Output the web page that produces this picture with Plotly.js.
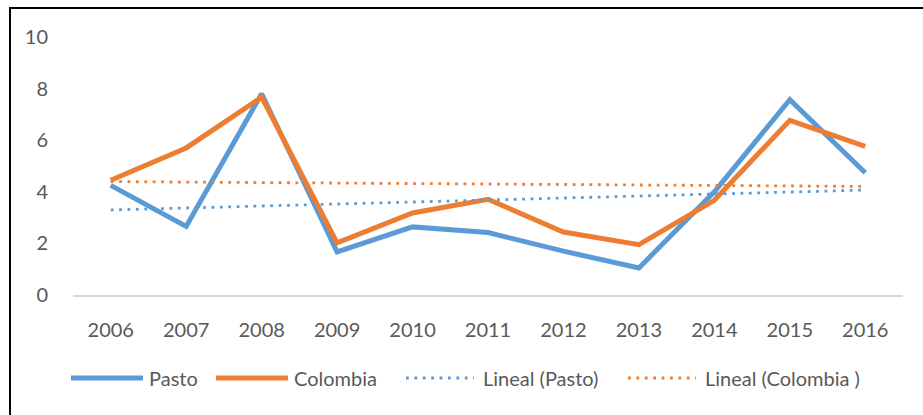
<!DOCTYPE html>
<html>
<head>
<meta charset="utf-8">
<script src="https://cdn.plot.ly/plotly-3.0.1.min.js"></script>
<style>
  html, body { margin: 0; padding: 0; background: #fff; }
  #wrap { position: relative; width: 923px; height: 415px; }
  #chart { position: absolute; left: 0; top: 0; width: 923px; height: 415px; }
  #frame { position: absolute; left: 9px; top: 7px; right: 0; bottom: -5px;
           border-top: 2px solid #000; border-left: 2px solid #000; pointer-events: none; }
</style>
</head>
<body>
<div id="wrap">
  <div id="chart"></div>
  <div id="frame"></div>
</div>
<script>
// ---- Data ----
const years = ['2006','2007','2008','2009','2010','2011','2012','2013','2014','2015','2016'];
const pasto = [4.25, 2.66, 7.8, 1.67, 2.64, 2.42, 1.7, 1.05, 4.0, 7.57, 4.74];
const colombia = [4.45, 5.7, 7.67, 2.02, 3.18, 3.71, 2.44, 1.95, 3.67, 6.77, 5.76];
const yTicks = [0, 2, 4, 6, 8, 10];
const seriesNames = ['Pasto', 'Colombia', 'Lineal (Pasto)', 'Lineal (Colombia )'];

// Linear (least-squares) trend, as in the spreadsheet "Lineal" trendline
function linearTrend(vals) {
  const n = vals.length;
  const xs = vals.map((_, i) => i);
  const mx = xs.reduce((a, b) => a + b, 0) / n;
  const my = vals.reduce((a, b) => a + b, 0) / n;
  let sxy = 0, sxx = 0;
  for (let i = 0; i < n; i++) { sxy += (xs[i] - mx) * (vals[i] - my); sxx += (xs[i] - mx) ** 2; }
  const slope = sxy / sxx;
  return xs.map(x => my + slope * (x - mx));
}

const BLUE = '#5B9BD5', ORANGE = '#ED7D31', TXT = '#595959';
const FONT = 'Lato, "Open Sans", sans-serif';
const FS = 20;

// Layout geometry
const W = 923, H = 415, L = 73, R = 20, T = 37, B = 120;
const PW = W - L - R, PH = H - T - B;
const px = x => (x - L) / PW;
const py = y => (H - B - y) / PH;

const DOT = '2.8px,5.6px';
const traces = [
  { x: years, y: pasto, name: seriesNames[0], type: 'scatter', mode: 'lines',
    line: { color: BLUE, width: 5 } },
  { x: years, y: colombia, name: seriesNames[1], type: 'scatter', mode: 'lines',
    line: { color: ORANGE, width: 5 } },
  { x: years, y: linearTrend(pasto), name: seriesNames[2], type: 'scatter', mode: 'lines',
    line: { color: BLUE, width: 2.8, dash: DOT } },
  { x: years, y: linearTrend(colombia), name: seriesNames[3], type: 'scatter', mode: 'lines',
    line: { color: ORANGE, width: 2.8, dash: DOT } }
];

// Custom legend (long samples like the original)
const legendY = 378;
const legendItems = [
  { x0: 71, x1: 143, tx: 147, color: BLUE, width: 5, dash: 'solid', text: seriesNames[0] },
  { x0: 216, x1: 288, tx: 292, color: ORANGE, width: 5, dash: 'solid', text: seriesNames[1] },
  { x0: 406, x1: 474, tx: 481, color: BLUE, width: 2.8, dash: DOT, text: seriesNames[2] },
  { x0: 628, x1: 696, tx: 703, color: ORANGE, width: 2.8, dash: DOT, text: seriesNames[3] }
];
const shapes = legendItems.map(it => ({
  type: 'line', xref: 'paper', yref: 'paper',
  x0: px(it.x0), x1: px(it.x1), y0: py(legendY), y1: py(legendY),
  line: { color: it.color, width: it.width, dash: it.dash }
}));
const annotations = legendItems.map(it => ({
  xref: 'paper', yref: 'paper', x: px(it.tx), y: py(legendY),
  xanchor: 'left', yanchor: 'middle', showarrow: false, text: it.text,
  font: { family: FONT, size: FS, color: TXT }
}));

const layout = {
  width: W, height: H,
  margin: { l: L, r: R, t: T, b: B, pad: 0 },
  paper_bgcolor: '#fff', plot_bgcolor: '#fff',
  showlegend: false,
  font: { family: FONT, size: FS, color: TXT },
  xaxis: {
    type: 'category', range: [-0.5, 10.5],
    showline: true, linecolor: '#D9D9D9', linewidth: 2,
    showgrid: false, zeroline: false,
    ticks: 'outside', ticklen: 16, tickcolor: 'rgba(0,0,0,0)',
    tickfont: { family: FONT, size: FS, color: TXT }
  },
  yaxis: {
    range: [0, 10], tickvals: yTicks, ticktext: yTicks.map(String),
    showline: false, showgrid: false, zeroline: false,
    ticks: 'outside', ticklen: 20, tickcolor: 'rgba(0,0,0,0)',
    tickfont: { family: FONT, size: FS, color: TXT }
  },
  shapes: shapes,
  annotations: annotations
};

Plotly.newPlot('chart', traces, layout, { displayModeBar: false, staticPlot: true });
</script>
</body>
</html>
